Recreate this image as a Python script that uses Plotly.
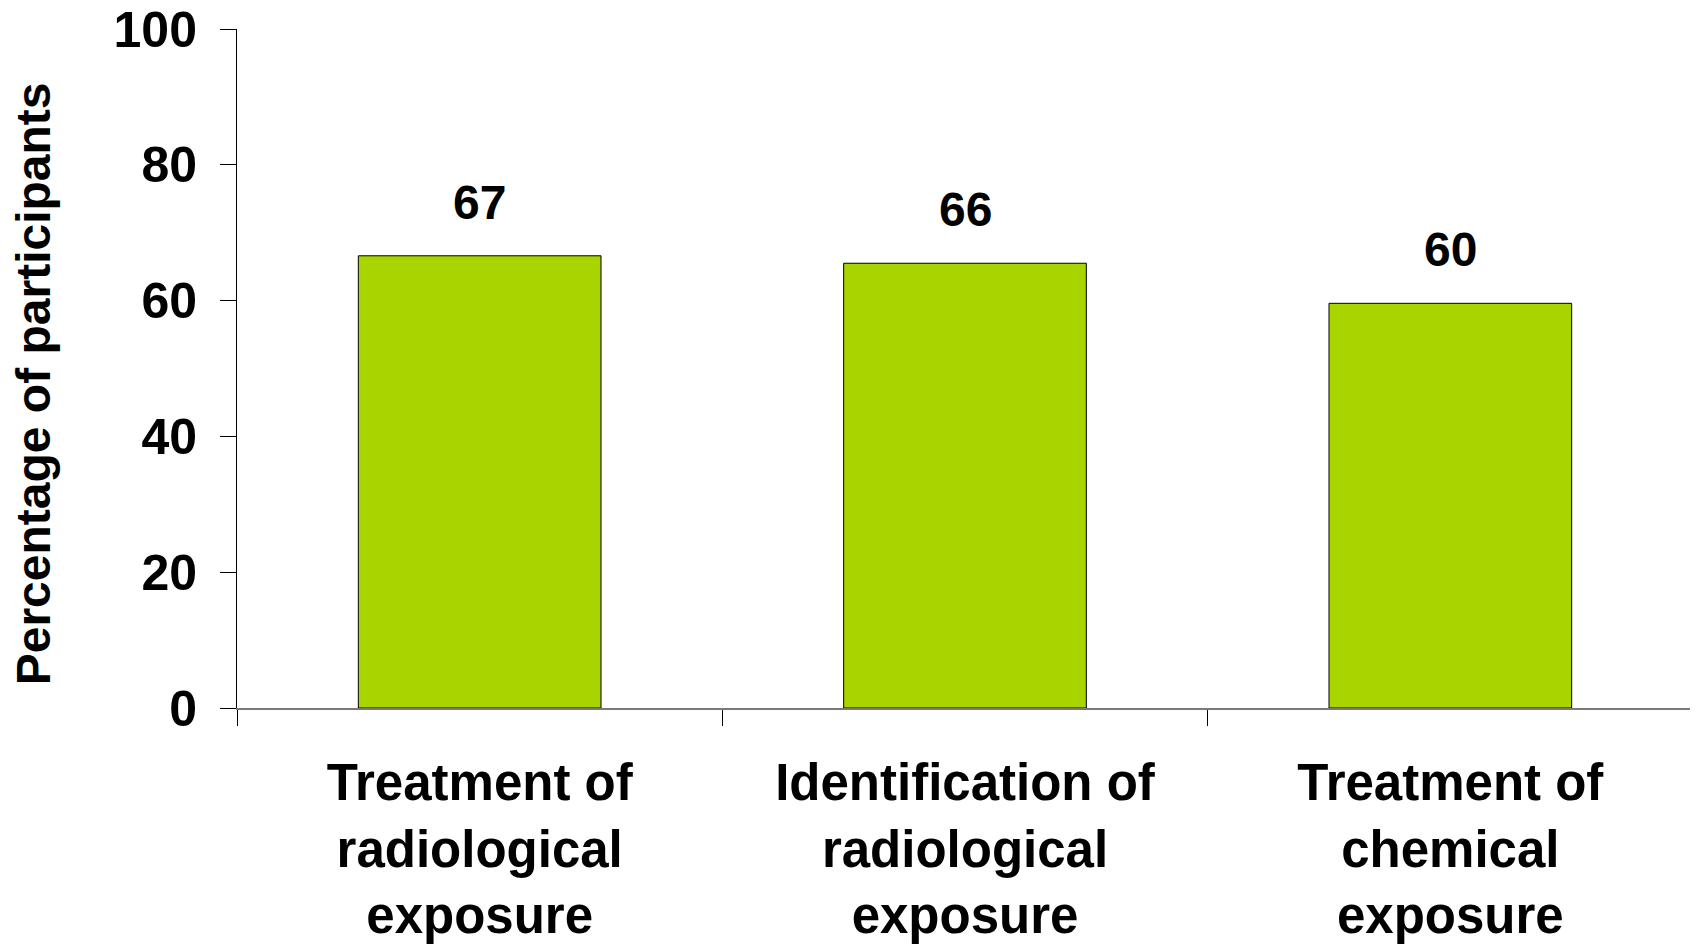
import plotly.graph_objects as go

categories = ["Treatment of<br>radiological<br>exposure",
              "Identification of<br>radiological<br>exposure",
              "Treatment of<br>chemical<br>exposure"]
values = [66.6, 65.5, 59.6]
labels = ["67", "66", "60"]
y_ticks = [0, 20, 40, 60, 80, 100]

FONT = "Arial, Liberation Sans, sans-serif"

fig = go.Figure()
fig.add_trace(go.Bar(
    x=categories,
    y=values,
    width=0.5,
    marker=dict(color="#A8D400", line=dict(color="black", width=1)),
    hoverinfo="skip",
))

# value labels above bars
for c, v, t in zip(categories, values, labels):
    fig.add_annotation(x=c, y=v, text=t, showarrow=False, yanchor="bottom", yshift=25,
                       font=dict(family=FONT, size=48, color="black", weight="bold"))

fig.add_annotation(text="Percentage of participants", xref="paper", yref="paper",
                   x=-0.1395, y=0.478, xanchor="center", yanchor="middle", textangle=-90,
                   showarrow=False, font=dict(family=FONT, size=48, color="black", weight="bold"))

# page body has an 8px margin, so margins are shifted by that much
fig.update_layout(
    width=1698, height=948,
    margin=dict(l=229, r=13, t=21, b=248, autoexpand=False),
    plot_bgcolor="white", paper_bgcolor="white",
    showlegend=False,
    font=dict(family=FONT, color="black"),
    xaxis=dict(
        type="category",
        automargin=False,
        showgrid=False,
        showline=True, linecolor="#7a7a72", linewidth=2,
        ticks="outside", tickson="boundaries", ticklen=16, tickcolor="black", tickwidth=1,
        tickfont=dict(family=FONT, size=51, color="black", weight="bold"),
        ticklabelstandoff=29,
    ),
    yaxis=dict(
        range=[0, 100],
        automargin=False,
        tickvals=y_ticks,
        showgrid=False, zeroline=False,
        showline=True, linecolor="black", linewidth=1,
        ticks="outside", ticklen=16, tickcolor="black", tickwidth=1,
        tickfont=dict(family=FONT, size=50, color="black", weight="bold"),
        ticklabelstandoff=13,
        ticklabeloverflow="allow",
    ),
)

fig.write_html("out.html")
